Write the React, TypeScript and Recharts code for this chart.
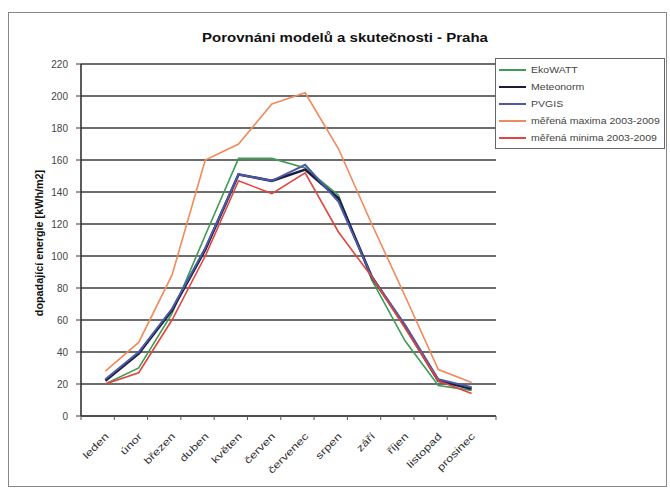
import { LineChart, Line, XAxis, YAxis, CartesianGrid, Legend } from 'recharts';

const months = ['leden', 'únor', 'březen', 'duben', 'květen', 'červen', 'červenec', 'srpen', 'září', 'říjen', 'listopad', 'prosinec'];

const ekowatt = [20, 30, 64, 113, 161, 161, 155, 138, 85, 47, 19, 16];
const meteonorm = [22, 39, 66, 104, 151, 147, 154, 136, 87, 56, 22, 17];
const pvgis = [23, 40, 67, 105, 151, 147, 157, 134, 87, 57, 23, 18];
const maxima = [28, 46, 88, 160, 170, 195, 202, 167, 120, 75, 29, 21];
const minima = [20, 27, 60, 100, 147, 139, 152, 115, 87, 55, 22, 14];

const yTicks = [0, 20, 40, 60, 80, 100, 120, 140, 160, 180, 200, 220];

const data = months.map((m, i) => ({
  month: m,
  ekowatt: ekowatt[i],
  meteonorm: meteonorm[i],
  pvgis: pvgis[i],
  maxima: maxima[i],
  minima: minima[i],
}));

const font = '"Liberation Sans", Arial, sans-serif';

const series = [
  { key: 'ekowatt', name: 'EkoWATT', color: '#3f9b55', width: 1.6 },
  { key: 'meteonorm', name: 'Meteonorm', color: '#1c1c3c', width: 2.6 },
  { key: 'pvgis', name: 'PVGIS', color: '#4a5aa8', width: 2 },
  { key: 'maxima', name: 'měřená maxima 2003-2009', color: '#f08a5a', width: 1.6 },
  { key: 'minima', name: 'měřená minima 2003-2009', color: '#e2453f', width: 1.6 },
];

const half = 585 / 12 / 2;

const MonthTick = (props: any) => {
  const { x, y, payload, index } = props;
  const ax = x + 4;
  const ay = y + 13;
  return (
    <g>
      <line x1={x - half} y1={y - 8} x2={x - half} y2={y - 4} stroke="#555" />
      {index === months.length - 1 && (
        <line x1={x + half} y1={y - 8} x2={x + half} y2={y - 4} stroke="#555" />
      )}
      <text
        x={0}
        y={0}
        textAnchor="end"
        transform={`translate(${ax} ${ay}) rotate(-45) scale(1.3 1)`}
        fontSize={10}
        fill="#333"
        fontFamily={font}
      >
        {payload.value}
      </text>
    </g>
  );
};

const renderLegend = () => (
  <div
    style={{
      border: '1px solid #666',
      background: '#fff',
      padding: '2px 3px',
      width: 162,
      fontFamily: font,
      fontSize: 9,
      color: '#444',
      overflow: 'hidden',
    }}
  >
    {series.map((s) => (
      <div key={s.key} style={{ display: 'flex', alignItems: 'center', height: 17 }}>
        <div style={{ width: 27, height: 2, background: s.color, marginRight: 5, flexShrink: 0 }} />
        <span style={{ display: 'inline-block', transform: 'scaleX(1.17)', transformOrigin: 'left center', whiteSpace: 'nowrap' }}>
          {s.name}
        </span>
      </div>
    ))}
  </div>
);

export default function App() {
  return (
    <div style={{ position: 'absolute', left: 0, top: 0, width: 670, height: 491, background: '#fff' }}>
      <div
        style={{
          position: 'absolute', left: 8, top: 12, width: 659, height: 475,
          border: '1px solid #888', boxSizing: 'border-box',
        }}
      />
      <div
        style={{
          position: 'absolute', left: 15, top: 31, width: 660, textAlign: 'center',
          fontFamily: font, fontSize: 12, fontWeight: 'bold', color: '#111',
          transform: 'scaleX(1.25)',
        }}
      >
        Porovnáni modelů a skutečnosti - Praha
      </div>
      <div style={{ position: 'absolute', left: 39, top: 243, width: 0, height: 0 }}>
        <div
          style={{
            position: 'absolute', left: 0, top: 0,
            transform: 'translate(-50%, -50%) rotate(-90deg) scaleX(1.08)',
            whiteSpace: 'nowrap', fontFamily: font, fontSize: 10, fontWeight: 'bold', color: '#111',
          }}
        >
          dopadající energie [kWh/m2]
        </div>
      </div>
      <LineChart
        width={670}
        height={491}
        data={data}
        margin={{ top: 64, right: 4, left: 41, bottom: 15 }}
        style={{ position: 'absolute', left: 0, top: 0 }}
      >
        <CartesianGrid vertical={false} stroke="#3c3c3c" strokeWidth={1.6} />
        <XAxis
          dataKey="month"
          height={60}
          interval={0}
          padding={{ left: half, right: half }}
          tickLine={false}
          axisLine={{ stroke: '#444', strokeWidth: 1.6 }}
          tick={<MonthTick />}
        />
        <YAxis
          width={40}
          domain={[0, 220]}
          ticks={yTicks}
          interval={0}
          tickSize={5}
          tickMargin={8}
          axisLine={{ stroke: '#333', strokeWidth: 1.6 }}
          tickLine={{ stroke: '#333' }}
          tick={{ fontSize: 10, fill: '#444', fontFamily: font }}
        />
        <YAxis
          yAxisId="r"
          orientation="right"
          width={0}
          tick={false}
          tickLine={false}
          axisLine={{ stroke: '#aaa' }}
        />
        <Legend
          content={renderLegend}
          layout="vertical"
          verticalAlign="top"
          align="right"
          wrapperStyle={{ left: 495, top: 58, width: 170 }}
        />
        {series.map((s) => (
          <Line
            key={s.key}
            type="linear"
            dataKey={s.key}
            name={s.name}
            stroke={s.color}
            strokeWidth={s.width}
            dot={false}
            isAnimationActive={false}
          />
        ))}
      </LineChart>
    </div>
  );
}
